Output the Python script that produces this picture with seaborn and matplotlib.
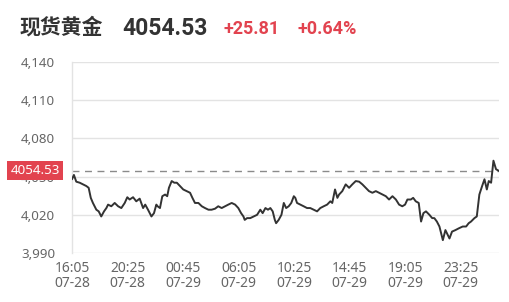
import matplotlib
matplotlib.use("Agg")
import matplotlib.pyplot as plt
import matplotlib.transforms as mtransforms
import seaborn as sns
import pandas as pd

# ---- data (minute index from 16:05 07-28, price) ----
minute_idx = [0, 9, 20, 36, 52, 67, 78, 88, 98, 114, 125, 137, 150, 161, 169, 184, 200, 216, 231, 247,
              259, 270, 286, 301, 317, 333, 343, 356, 372, 384, 395, 401, 412, 423, 436, 446, 454, 467,
              479, 491, 506, 521, 537, 553, 564, 576, 592, 608, 623, 639, 654, 670, 685, 701, 717, 732,
              748, 764, 779, 792, 803, 809, 820, 835, 851, 867, 882, 893, 906, 918, 929, 940, 950, 956,
              968, 981, 992, 1003, 1015, 1027, 1039, 1046, 1054, 1070, 1085, 1101, 1116, 1132, 1148,
              1163, 1179, 1195, 1210, 1219, 1232, 1243, 1251, 1266, 1282, 1298, 1313, 1329, 1345, 1360,
              1376, 1391, 1407, 1423, 1438, 1454, 1470, 1485, 1501, 1517, 1532, 1547, 1560, 1571, 1587,
              1598, 1610, 1624, 1635, 1646, 1658, 1674, 1687, 1697, 1709, 1721, 1737, 1749, 1760, 1768,
              1780, 1796, 1812, 1830, 1846, 1858, 1869, 1885, 1896, 1908, 1921, 1932, 1943, 1952, 1963,
              1974, 1986, 1999]
price = [4047.9, 4051.3, 4046.0, 4045.2, 4043.9, 4042.6, 4041.2, 4033.3, 4029.3, 4024.0, 4022.7, 4018.7,
         4022.7, 4025.3, 4028.0, 4026.7, 4029.3, 4026.7, 4025.3, 4029.3, 4033.8, 4032.0, 4033.8, 4030.6,
         4032.7, 4025.3, 4028.0, 4024.0, 4018.7, 4021.3, 4028.0, 4026.7, 4025.3, 4034.6, 4035.9, 4034.6,
         4041.2, 4046.5, 4045.2, 4045.2, 4042.6, 4039.9, 4038.6, 4037.3, 4033.3, 4029.3, 4029.3, 4026.7,
         4025.3, 4024.0, 4024.0, 4024.8, 4026.7, 4025.3, 4026.7, 4028.0, 4029.3, 4028.0, 4025.3, 4021.3,
         4018.7, 4016.0, 4017.4, 4017.4, 4018.7, 4020.0, 4024.0, 4021.3, 4025.3, 4024.0, 4025.3, 4022.7,
         4016.0, 4013.4, 4016.0, 4020.0, 4029.3, 4025.3, 4026.7, 4029.3, 4034.6, 4033.3, 4029.3, 4028.0,
         4026.7, 4025.3, 4025.3, 4024.0, 4022.7, 4025.3, 4026.7, 4028.0, 4030.6, 4029.3, 4039.9, 4033.3,
         4035.9, 4038.6, 4043.9, 4041.2, 4043.9, 4046.5, 4046.0, 4043.9, 4041.2, 4038.6, 4037.3, 4038.6,
         4037.3, 4035.9, 4034.6, 4032.0, 4034.6, 4032.0, 4028.0, 4026.7, 4028.0, 4032.0, 4032.0, 4033.3,
         4030.6, 4029.3, 4014.7, 4021.3, 4022.7, 4020.0, 4017.4, 4017.4, 4014.7, 4010.8, 4000.1, 4008.0,
         4004.1, 4001.4, 4006.8, 4008.0, 4009.4, 4010.8, 4010.8, 4013.4, 4014.7, 4017.4, 4018.7, 4035.9,
         4042.6, 4047.9, 4039.9, 4046.5, 4045.2, 4062.5, 4055.8, 4054.53]

last_price = 4054.53
change = "+25.81"
change_pct = "+0.64%"
title = "现货黄金"

xtick_pos = [0, 260, 520, 780, 1040, 1300, 1560, 1820]
xtick_labels = ["16:05\n07-28", "20:25\n07-28", "00:45\n07-29", "06:05\n07-29",
                "10:25\n07-29", "14:45\n07-29", "19:05\n07-29", "23:25\n07-29"]
ytick_pos = [3990, 4020, 4050, 4080, 4110, 4140]
ytick_labels = ["3,990", "4,020", "4,050", "4,080", "4,110", "4,140"]

# ---- style ----
sns.set_theme(style="white")
plt.rcParams["font.family"] = ["Noto Sans", "Noto Sans CJK SC", "DejaVu Sans"]

W, H = 509, 302
fig = plt.figure(figsize=(W / 100, H / 100), dpi=100)
ax = fig.add_axes([72 / W, 1 - 253 / H, (499 - 72) / W, (253 - 62) / H])

df = pd.DataFrame({"idx": minute_idx, "price": price})
sns.lineplot(data=df, x="idx", y="price", ax=ax, color="#333333", linewidth=1.4, zorder=3)

ax.set_xlim(0, 2000)
ax.set_ylim(3990, 4140)
ax.set_xticks(xtick_pos)
ax.set_xticklabels(xtick_labels, fontsize=10, color="#666666", linespacing=1.0)
ax.set_yticks(ytick_pos)
ax.set_yticklabels(ytick_labels, fontsize=9.6, color="#666666")
ax.tick_params(axis="both", length=0)
ax.tick_params(axis="y", pad=12)
ax.tick_params(axis="x", pad=6)
ax.set_xlabel("")
ax.set_ylabel("")

ax.grid(axis="y", color="#e3e3e3", linewidth=1.0)
ax.grid(axis="x", visible=False)
for s in ["top", "right", "bottom"]:
    ax.spines[s].set_visible(False)
ax.spines["left"].set_color("#e3e3e3")
ax.spines["left"].set_linewidth(1.0)

ax.axhline(last_price, color="#8a8a8a", linewidth=1.0, linestyle=(0, (5, 4)), zorder=2)

trans = mtransforms.blended_transform_factory(ax.transAxes, ax.transData)
ax.text((35 - 72) / 427, last_price, f"{last_price:.2f}", transform=trans, ha="center", va="center",
        fontsize=9.6, color="white", zorder=10, clip_on=False,
        bbox=dict(boxstyle="square,pad=0.22", facecolor="#e2434f", edgecolor="none"))

# ---- header ----
fig.text(20 / W, 1 - 33.5 / H, title, fontsize=15, fontweight="bold", color="#333333",
         family=["Noto Sans CJK SC", "DejaVu Sans"], va="baseline", ha="left")
fig.text(122 / W, 1 - 35 / H, f"{last_price:.2f}", fontsize=16.5, fontweight="bold", color="#333333",
         family=["Roboto", "DejaVu Sans"], va="baseline", ha="left")
fig.text(223 / W, 1 - 33.5 / H, change, fontsize=13, fontweight="bold", color="#e2434f",
         family=["Roboto", "DejaVu Sans"], va="baseline", ha="left")
fig.text(298 / W, 1 - 33.5 / H, change_pct, fontsize=13, fontweight="bold", color="#e2434f",
         family=["Roboto", "DejaVu Sans"], va="baseline", ha="left")

fig.savefig("out.png", dpi=100)
